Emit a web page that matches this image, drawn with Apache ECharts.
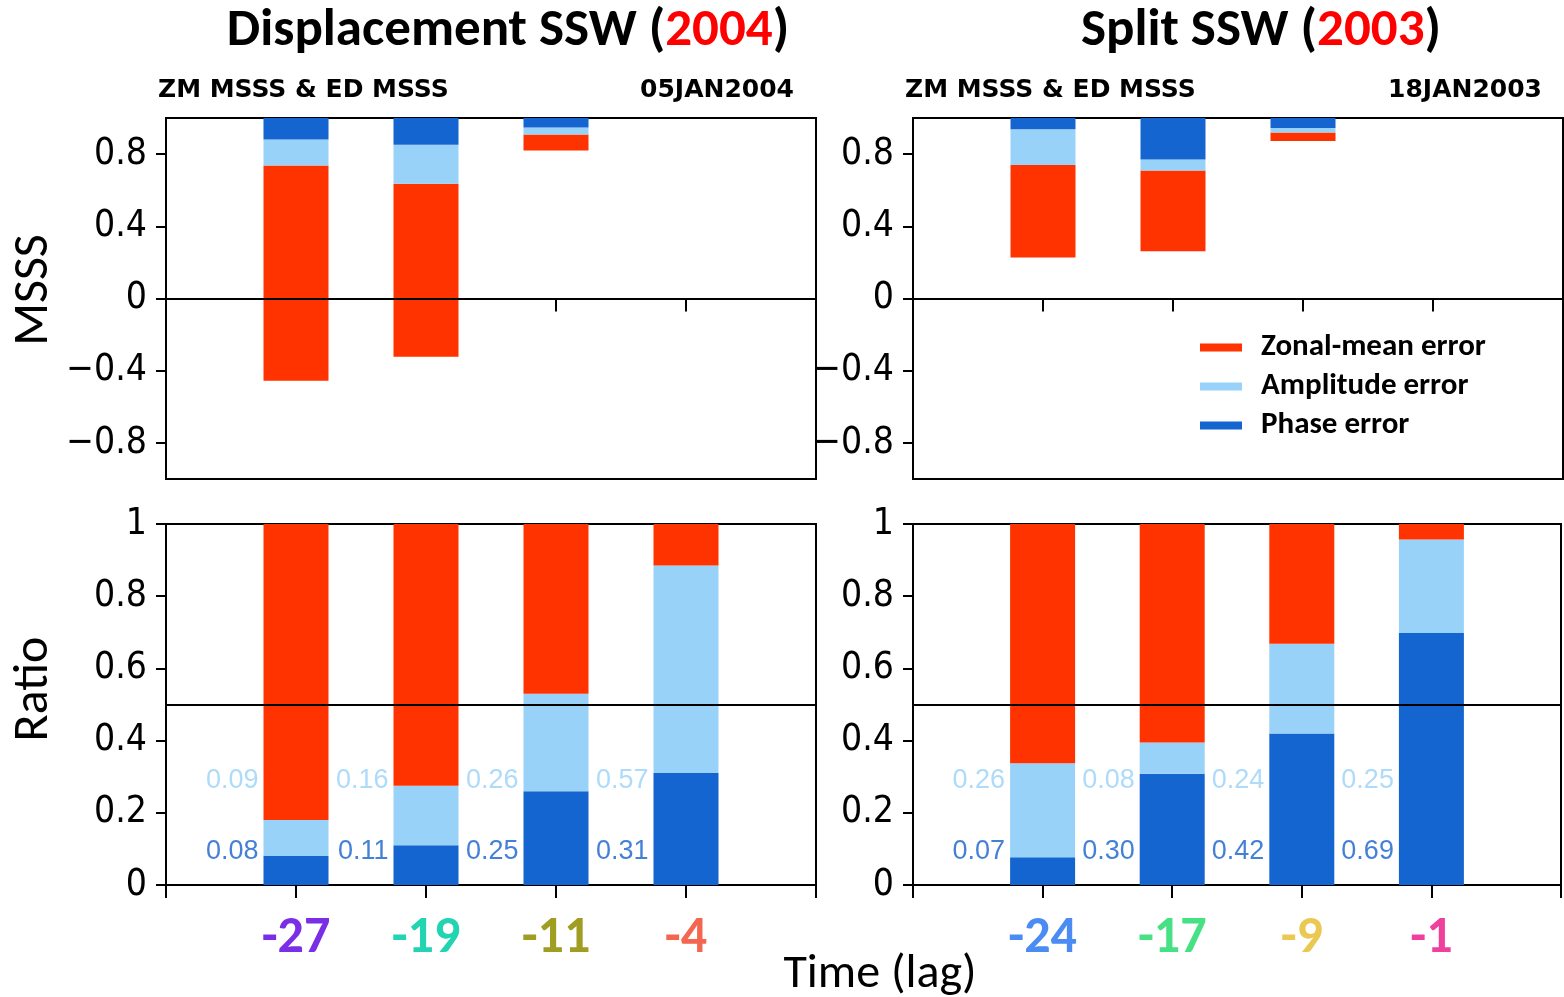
<!DOCTYPE html>
<html>
<head>
<meta charset="utf-8">
<script src="https://cdn.jsdelivr.net/npm/echarts@6/dist/echarts.min.js"></script>
<style>html,body{margin:0;padding:0;background:#fff}#c{width:1564px;height:997px}</style>
</head>
<body>
<div id="c"></div>
<script>
// ---------------- data ----------------
const lagsDisp = ['-27', '-19', '-11', '-4'];
const lagsSplit = ['-24', '-17', '-9', '-1'];
const lagColorsDisp = ['#7A2EE6', '#22D4B2', '#A09E22', '#F4664F'];
const lagColorsSplit = ['#4A8BF4', '#45E184', '#EAC852', '#F0409E'];

// MSSS panels: segment boundaries (bars hang from MSSS = 1)
const dispPhaseTop = [1, 1, 1, null];
const dispAmpTop   = [0.881, 0.852, 0.948, null];
const dispZmTop    = [0.737, 0.636, 0.909, null];
const dispZmBottom = [-0.455, -0.323, 0.82, null];

const splitPhaseTop = [1, 1, 1, null];
const splitAmpTop   = [0.938, 0.770, 0.944, null];
const splitZmTop    = [0.739, 0.709, 0.92, null];
const splitZmBottom = [0.227, 0.262, 0.872, null];

// Ratio panels
const dispPhaseRatio = [0.08, 0.11, 0.26, 0.31];
const dispAmpRatio   = [0.10, 0.165, 0.27, 0.575];
const dispZmRatio    = [0.82, 0.725, 0.47, 0.115];
const splitPhaseRatio = [0.077, 0.308, 0.42, 0.698];
const splitAmpRatio   = [0.26, 0.087, 0.248, 0.259];
const splitZmRatio    = [0.663, 0.605, 0.332, 0.043];

const dispAmpLabels   = ['0.09', '0.16', '0.26', '0.57'];
const dispPhaseLabels = ['0.08', '0.11', '0.25', '0.31'];
const splitAmpLabels   = ['0.26', '0.08', '0.24', '0.25'];
const splitPhaseLabels = ['0.07', '0.30', '0.42', '0.69'];

const msssTicks = [-0.8, -0.4, 0, 0.4, 0.8];

// ---------------- styling ----------------
const RED = '#FF3300', LBLUE = '#99D2F8', DBLUE = '#1565D0';
const NAME_ZM = 'Zonal-mean error', NAME_AMP = 'Amplitude error', NAME_PH = 'Phase error';
const tickFont = '"DejaVu Sans Condensed", "Liberation Sans", sans-serif';
const calFont = 'Carlito, Lato, "Open Sans", sans-serif';

const chart = echarts.init(document.getElementById('c'), null, {renderer: 'canvas'});

function cats(lags) { return [''].concat(lags, ['']); }
function pad(arr) { return ['-'].concat(arr.map(v => v == null ? '-' : v), ['-']); }
function diff(a, b) { return a.map((v, i) => (v == null || b[i] == null) ? null : +(v - b[i]).toFixed(4)); }

function fmtTick(v) {
  if (v === 0) return '0';
  if (Math.abs(v) === 1) return (v < 0 ? '\u2212' : '') + '1';
  return (v < 0 ? '\u2212' : '') + Math.abs(v).toFixed(1);
}

const grids = [
  {left: 166, top: 118, width: 650, height: 361},
  {left: 913, top: 118, width: 650, height: 361},
  {left: 166, top: 524, width: 650, height: 361},
  {left: 913, top: 524, width: 650, height: 361}
].map(g => Object.assign(g, {show: true, borderColor: '#000', borderWidth: 2, containLabel: false}));

function xAx(gi, lags, colors, showLabels) {
  return {
    type: 'category', gridIndex: gi, data: cats(lags), boundaryGap: false,
    axisLine: {show: true, lineStyle: {color: '#000', width: 2}},
    axisTick: {show: true, interval: 0, length: 13, inside: false, lineStyle: {color: '#000', width: 2}},
    axisLabel: {
      show: showLabels, interval: 0, margin: 28,
      fontFamily: calFont, fontWeight: 'bold', fontSize: 52,
      color: function (v) { const i = lags.indexOf(v); return i >= 0 ? colors[i] : '#000'; }
    },
    splitLine: {show: false}
  };
}
function yAxTop(gi) {
  return {
    type: 'value', gridIndex: gi, min: -1, max: 1,
    axisLine: {show: true, lineStyle: {color: '#000', width: 2}},
    axisTick: {show: true, length: 10, lineStyle: {color: '#000', width: 2}, customValues: msssTicks},
    axisLabel: {show: true, customValues: msssTicks, formatter: fmtTick, margin: 19,
      fontFamily: tickFont, fontSize: 37, color: '#000'},
    splitLine: {show: false}
  };
}
function yAxBot(gi) {
  return {
    type: 'value', gridIndex: gi, min: 0, max: 1, interval: 0.2,
    axisLine: {show: true, lineStyle: {color: '#000', width: 2}},
    axisTick: {show: true, length: 10, lineStyle: {color: '#000', width: 2}},
    axisLabel: {show: true, formatter: fmtTick, margin: 19,
      fontFamily: tickFont, fontSize: 37, color: '#000'},
    splitLine: {show: false}
  };
}

function msssSeries(gi, phaseTop, ampTop, zmTop, zmBottom) {
  const st = 'msss' + gi;
  const common = {type: 'bar', xAxisIndex: gi, yAxisIndex: gi, stack: st, stackStrategy: 'all',
    barWidth: 65, silent: true, animation: false};
  return [
    Object.assign({}, common, {name: 'base', data: pad(zmBottom), itemStyle: {color: 'rgba(0,0,0,0)'},
      markLine: {silent: true, symbol: 'none', label: {show: false},
        lineStyle: {color: '#000', width: 2, type: 'solid'}, data: [{yAxis: 0}]}}),
    Object.assign({}, common, {name: NAME_ZM, data: pad(diff(zmTop, zmBottom)), itemStyle: {color: RED}}),
    Object.assign({}, common, {name: NAME_AMP, data: pad(diff(ampTop, zmTop)), itemStyle: {color: LBLUE}}),
    Object.assign({}, common, {name: NAME_PH, data: pad(diff(phaseTop, ampTop)), itemStyle: {color: DBLUE}})
  ];
}
function ratioSeries(gi, lags, phase, amp, zm, ampLabels, phaseLabels) {
  const st = 'ratio' + gi;
  const common = {type: 'bar', xAxisIndex: gi, yAxisIndex: gi, stack: st, barWidth: 65, silent: true, animation: false};
  const lblStyle = {fontFamily: '"Liberation Sans", sans-serif', fontSize: 27};
  return [
    Object.assign({}, common, {name: NAME_PH, data: pad(phase), itemStyle: {color: DBLUE},
      markLine: {silent: true, symbol: 'none', label: {show: false},
        lineStyle: {color: '#000', width: 2, type: 'solid'}, data: [{yAxis: 0.5}]}}),
    Object.assign({}, common, {name: NAME_AMP, data: pad(amp), itemStyle: {color: LBLUE}}),
    Object.assign({}, common, {name: NAME_ZM, data: pad(zm), itemStyle: {color: RED}}),
    {type: 'scatter', xAxisIndex: gi, yAxisIndex: gi, silent: true, animation: false,
      symbolSize: 1, itemStyle: {color: 'rgba(0,0,0,0)'},
      data: lags.map(l => [l, 0.29]),
      label: Object.assign({show: true, position: 'left', distance: 37, color: LBLUE,
        formatter: p => ampLabels[p.dataIndex]}, lblStyle)},
    {type: 'scatter', xAxisIndex: gi, yAxisIndex: gi, silent: true, animation: false,
      symbolSize: 1, itemStyle: {color: 'rgba(0,0,0,0)'},
      data: lags.map(l => [l, 0.094]),
      label: Object.assign({show: true, position: 'left', distance: 37, color: '#1560CC',
        formatter: p => phaseLabels[p.dataIndex]}, lblStyle)}
  ];
}

const titleRich = {
  a: {fontFamily: calFont, fontWeight: 'bold', fontSize: 53, fill: '#000', color: '#000'},
  b: {fontFamily: calFont, fontWeight: 'bold', fontSize: 53, fill: '#FF0000', color: '#FF0000'}
};
const subFont = 'bold 25px "DejaVu Sans", sans-serif';

const option = {
  backgroundColor: '#fff',
  animation: false,
  grid: grids,
  xAxis: [
    xAx(0, lagsDisp, lagColorsDisp, false),
    xAx(1, lagsSplit, lagColorsSplit, false),
    xAx(2, lagsDisp, lagColorsDisp, true),
    xAx(3, lagsSplit, lagColorsSplit, true)
  ],
  yAxis: [yAxTop(0), yAxTop(1), yAxBot(2), yAxBot(3)],
  legend: {
    show: true, orient: 'vertical', left: 1200, top: 332, padding: 0, itemWidth: 42, itemHeight: 8, itemGap: 8,
    icon: 'rect', data: [NAME_ZM, NAME_AMP, NAME_PH], selectedMode: false,
    textStyle: {fontFamily: calFont, fontWeight: 'bold', fontSize: 31, color: '#000', padding: [0, 0, 0, 14]}
  },
  series: [].concat(
    msssSeries(0, dispPhaseTop, dispAmpTop, dispZmTop, dispZmBottom),
    msssSeries(1, splitPhaseTop, splitAmpTop, splitZmTop, splitZmBottom),
    ratioSeries(2, lagsDisp, dispPhaseRatio, dispAmpRatio, dispZmRatio, dispAmpLabels, dispPhaseLabels),
    ratioSeries(3, lagsSplit, splitPhaseRatio, splitAmpRatio, splitZmRatio, splitAmpLabels, splitPhaseLabels)
  ),
  graphic: [
    {type: 'text', x: 508, y: 32, style: {text: '{a|Displacement SSW (}{b|2004}{a|)}', rich: titleRich,
      align: 'center', verticalAlign: 'middle'}},
    {type: 'text', x: 1261, y: 32, style: {text: '{a|Split SSW (}{b|2003}{a|)}', rich: titleRich,
      align: 'center', verticalAlign: 'middle'}},
    {type: 'text', x: 158, y: 90, style: {text: 'ZM MSSS & ED MSSS', font: subFont, fill: '#000', align: 'left', verticalAlign: 'middle'}},
    {type: 'text', x: 794, y: 90, style: {text: '05JAN2004', font: subFont, fill: '#000', align: 'right', verticalAlign: 'middle'}},
    {type: 'text', x: 905, y: 90, style: {text: 'ZM MSSS & ED MSSS', font: subFont, fill: '#000', align: 'left', verticalAlign: 'middle'}},
    {type: 'text', x: 1542, y: 90, style: {text: '18JAN2003', font: subFont, fill: '#000', align: 'right', verticalAlign: 'middle'}},
    {type: 'text', x: 34, y: 290, rotation: Math.PI / 2, style: {text: 'MSSS', font: '50px ' + calFont, fill: '#000', align: 'center', verticalAlign: 'middle'}},
    {type: 'text', x: 34, y: 689, rotation: Math.PI / 2, style: {text: 'Ratio', font: '50px ' + calFont, fill: '#000', align: 'center', verticalAlign: 'middle'}},
    {type: 'text', x: 880, y: 975, style: {text: 'Time (lag)', font: '48px ' + calFont, fill: '#000', align: 'center', verticalAlign: 'middle'}}
  ]
};
chart.setOption(option);
</script>
</body>
</html>
